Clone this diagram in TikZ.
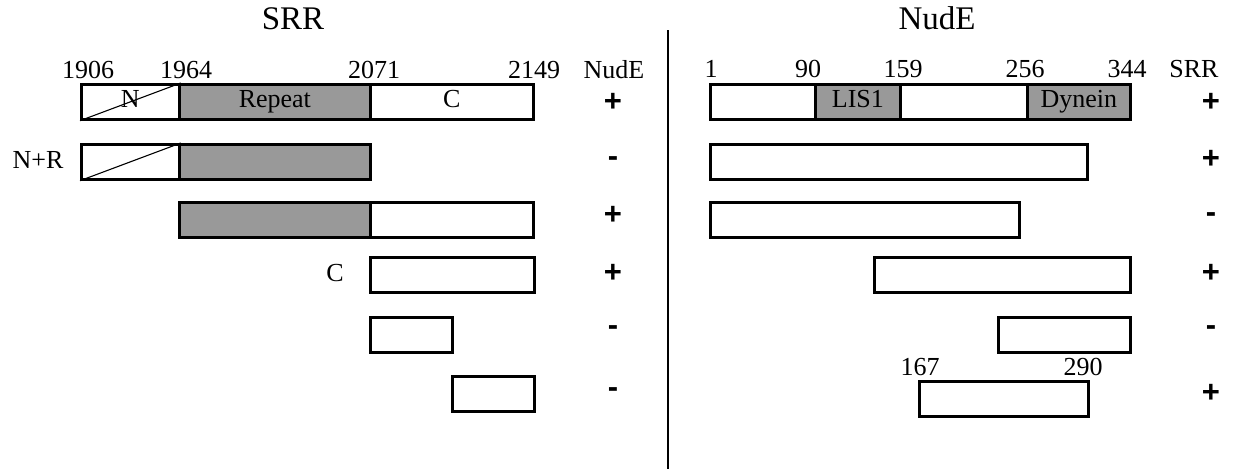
\documentclass[tikz,border=0pt]{standalone}
\usepackage{fontspec}
\setmainfont{Liberation Serif}
\newfontfamily\signfont{Liberation Sans}
\begin{document}
\begin{tikzpicture}[x=1pt,y=-1pt,
  box/.style={draw, line width=2.7pt, inner sep=0pt, anchor=north west, minimum height=35pt, text height=17pt, text depth=6pt, font=\fontsize{26}{29}\selectfont},
  gbox/.style={box, fill={rgb,255:red,153;green,153;blue,153}},
  num/.style={anchor=base, inner sep=0pt, font=\fontsize{26}{29}\selectfont},
  ttl/.style={anchor=base, inner sep=0pt, font=\fontsize{33}{36}\selectfont},
  sgn/.style={inner sep=0pt, font=\signfont\bfseries\fontsize{31}{34}\selectfont}]
\useasboundingbox (0,0) rectangle (1246,469);
% titles
\node[ttl] (tS) at (293,29) {SRR};
\node[ttl] (tN) at (937,29) {NudE};
\coordinate (vtop) at (668,30);
\coordinate (vbot) at (668,469);
\draw[line width=2pt] (vtop) -- (vbot);
% ---------- left: SRR ----------
\node[num] (l1906) at (88,78) {1906};
\node[num] (l1964) at (186,78) {1964};
\node[num] (l2071) at (374,78) {2071};
\node[num] (l2149) at (534,78) {2149};
\node[num] (lNudE) at (614,78) {NudE};
% row 1
\node[gbox, minimum width=191pt] (r1R) at (178,83) {Repeat};
\node[box, minimum width=98pt] (r1N) at (80,83) {N};
\node[box, minimum width=163pt] (r1C) at (369,83) {C};
\draw[line width=1.1pt] (r1N.south west) -- (r1N.north east);
% row 2
\node[num] (lNR) at (38,168) {N+R};
\node[gbox, minimum width=191pt] (r2R) at (178,143) {};
\node[box, minimum width=98pt] (r2N) at (80,143) {};
\draw[line width=1.1pt] (r2N.south west) -- (r2N.north east);
% row 3
\node[gbox, minimum width=191pt] (r3R) at (178,201) {};
\node[box, minimum width=163pt] (r3C) at (369,201) {};
% row 4
\node[num] (lC) at (335,281) {C};
\node[box, minimum width=164pt] (r4) at (369,256) {};
% row 5
\node[box, minimum width=82pt] (r5) at (369,316) {};
% row 6
\node[box, minimum width=82pt] (r6) at (451,375) {};
% signs left
\node[sgn] (sl1) at (613,102) {+};
\node[sgn] (sl2) at (613,162) {-};
\node[sgn] (sl3) at (613,215) {+};
\node[sgn] (sl4) at (613,273) {+};
\node[sgn] (sl5) at (613,331) {-};
\node[sgn] (sl6) at (613,393) {-};
% ---------- right: NudE ----------
\node[num] (n1) at (711,77) {1};
\node[num] (n90) at (808,77) {90};
\node[num] (n159) at (903,77) {159};
\node[num] (n256) at (1025,77) {256};
\node[num] (n344) at (1127,77) {344};
\node[num] (nSRR) at (1194,77) {SRR};
% row 1
\node[box, minimum width=105pt] (q1a) at (709,83) {};
\node[gbox, minimum width=85pt] (q1L) at (814,83) {LIS1};
\node[box, minimum width=127pt] (q1b) at (899,83) {};
\node[gbox, minimum width=103pt] (q1D) at (1026,83) {Dynein};
% row 2
\node[box, minimum width=377pt] (q2) at (709,143) {};
% row 3
\node[box, minimum width=309pt] (q3) at (709,201) {};
% row 4
\node[box, minimum width=256pt] (q4) at (873,256) {};
% row 5
\node[box, minimum width=132pt] (q5) at (997,316) {};
% row 6
\node[num] (n167) at (920,375) {167};
\node[num] (n290) at (1083,375) {290};
\node[box, minimum width=169pt] (q6) at (918,380) {};
% signs right
\node[sgn] (sr1) at (1211,102) {+};
\node[sgn] (sr2) at (1211,159) {+};
\node[sgn] (sr3) at (1211,218) {-};
\node[sgn] (sr4) at (1211,273) {+};
\node[sgn] (sr5) at (1211,331) {-};
\node[sgn] (sr6) at (1211,393) {+};
\end{tikzpicture}
\end{document}
